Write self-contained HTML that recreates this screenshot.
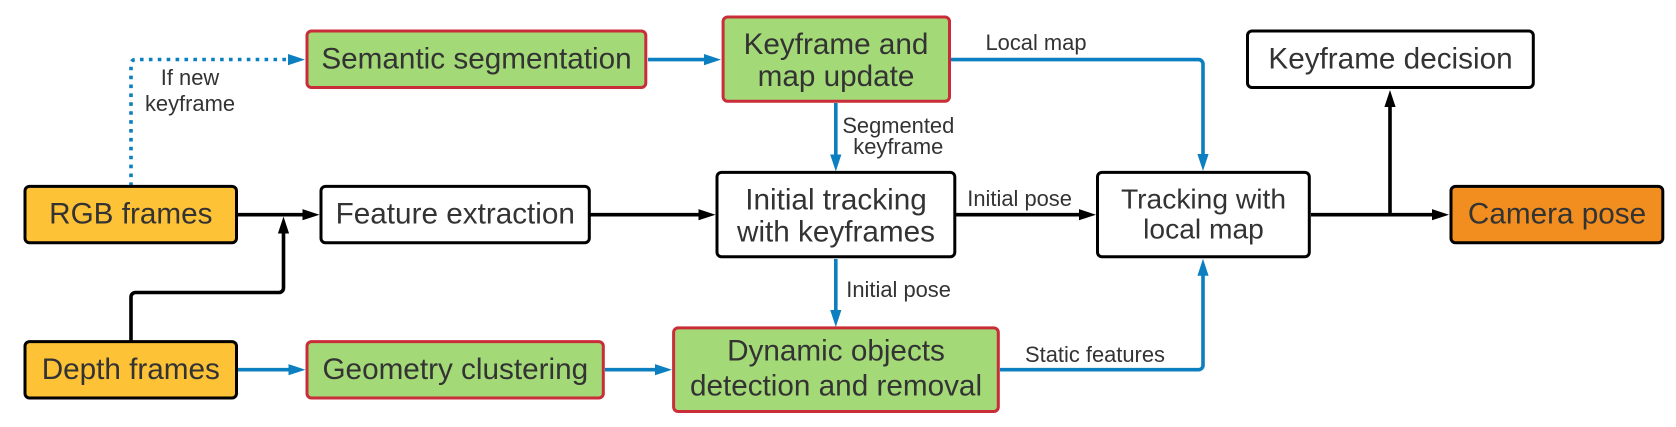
<!DOCTYPE html>
<html>
<head>
<meta charset="utf-8">
<style>
html,body{margin:0;padding:0;background:#fff;width:1676px;height:427px;overflow:hidden}
svg{display:block}
text{font-family:"Liberation Sans",sans-serif;fill:#333;text-anchor:middle}
.b{font-size:29.7px}
.t{font-size:28.2px}
.l{font-size:21.9px}
.k{fill:none;stroke:#000;stroke-width:3.6}
.c{fill:none;stroke:#0c7fc0;stroke-width:3.6}
.box{stroke-width:3}
</style>
</head>
<body>
<svg width="1676" height="427" viewBox="0 0 1676 427" xmlns="http://www.w3.org/2000/svg">
<rect width="1676" height="427" fill="#fff"/>

<!-- connectors -->
<path class="c" d="M131 186V64a4.500 4.500 0 0 1 4.500-4.500H288" stroke-dasharray="3.600 5.300"/>
<path class="c" d="M648 59.600H706"/>
<path class="c" d="M951 59.600H1198.500a4.500 4.500 0 0 1 4.500 4.500V155"/>
<path class="c" d="M835.800 103V155"/>
<path class="c" d="M835.800 259V311"/>
<path class="c" d="M238 369.700H290"/>
<path class="c" d="M605 369.700H657"/>
<path class="c" d="M1000 369.700H1198.500a4.500 4.500 0 0 0 4.500-4.500V275"/>
<path class="k" d="M238 214.700H304"/>
<path class="k" d="M590.500 214.700H700"/>
<path class="k" d="M956 214.700H1081"/>
<path class="k" d="M1311 214.700H1433"/>
<path class="k" d="M1390 214.700V105"/>
<path class="k" d="M131 341V297a4.500 4.500 0 0 1 4.500-4.500H279a4.500 4.500 0 0 0 4.500-4.500V232"/>

<!-- arrowheads -->
<g fill="#0c7fc0">
<path d="M305 59.600L288 54V65.200Z"/>
<path d="M721 59.600L704 54V65.200Z"/>
<path d="M835.800 171.500L830.200 154.500H841.400Z"/>
<path d="M835.800 327L830.200 310H841.400Z"/>
<path d="M1203 171L1197.400 154H1208.600Z"/>
<path d="M1203 258.800L1197.400 275.800H1208.600Z"/>
<path d="M305.500 369.700L288.500 364.100V375.300Z"/>
<path d="M672 369.700L655 364.100V375.300Z"/>
</g>
<g fill="#000">
<path d="M319.500 214.700L302.500 209.100V220.300Z"/>
<path d="M715.500 214.700L698.500 209.100V220.300Z"/>
<path d="M1096 214.700L1079 209.100V220.300Z"/>
<path d="M1449 214.700L1432 209.100V220.300Z"/>
<path d="M283.500 216.500L277.900 233.500H289.100Z"/>
<path d="M1390 90L1384.400 107H1395.600Z"/>
</g>

<!-- boxes -->
<g class="box" stroke="#c92d39" fill="#a3d977">
<rect x="307" y="31" width="338.800" height="56.500" rx="4.500"/>
<rect x="723.100" y="17" width="226.400" height="84.300" rx="4.500"/>
<rect x="307" y="341.600" width="296.300" height="56.400" rx="4.500"/>
<rect x="673.600" y="327.900" width="324.700" height="83.600" rx="4.500"/>
</g>
<g class="box" stroke="#000" fill="#fdc236">
<rect x="25" y="186.400" width="211.500" height="56.400" rx="4.500"/>
<rect x="25" y="341.600" width="211.500" height="56.400" rx="4.500"/>
</g>
<g class="box" stroke="#000" fill="#fff">
<rect x="321" y="186.400" width="268.300" height="56.400" rx="4.500"/>
<rect x="717" y="172.400" width="237.800" height="84.400" rx="4.500"/>
<rect x="1097.500" y="172.400" width="211.800" height="84.400" rx="4.500"/>
<rect x="1247.500" y="31" width="285.800" height="56.500" rx="4.500"/>
</g>
<rect class="box" x="1451" y="186.400" width="211.800" height="56.400" rx="4.500" stroke="#000" fill="#f28e20"/>

<!-- box labels -->
<text class="b" x="476.500" y="68.400">Semantic segmentation</text>
<text class="b" x="836" y="54.200">Keyframe and</text>
<text class="b" x="836" y="86.200">map update</text>
<text class="b" x="1390.500" y="68.400">Keyframe decision</text>
<text class="b" x="130.800" y="223.700">RGB frames</text>
<text class="b" x="455.300" y="223.700">Feature extraction</text>
<text class="b" x="836" y="209.500">Initial tracking</text>
<text class="b" x="836" y="241.500">with keyframes</text>
<text class="t" x="1203.500" y="208.600">Tracking with</text>
<text class="t" x="1203.500" y="238.500">local map</text>
<text class="b" x="1557" y="223.700">Camera pose</text>
<text class="b" x="130.800" y="378.800">Depth frames</text>
<text class="b" x="455.300" y="378.800">Geometry clustering</text>
<text class="b" x="836" y="360.500">Dynamic objects</text>
<text class="b" x="836" y="395.500">detection and removal</text>

<!-- connector labels -->
<text class="l" x="190" y="85">If new</text>
<text class="l" x="190" y="111">keyframe</text>
<text class="l" x="1036" y="50">Local map</text>
<text class="l" x="898.300" y="133">Segmented</text>
<text class="l" x="898.300" y="154.200">keyframe</text>
<text class="l" x="1019.600" y="205.900">Initial pose</text>
<text class="l" x="898.600" y="297">Initial pose</text>
<text class="l" x="1095" y="362.200">Static features</text>
</svg>
</body>
</html>
